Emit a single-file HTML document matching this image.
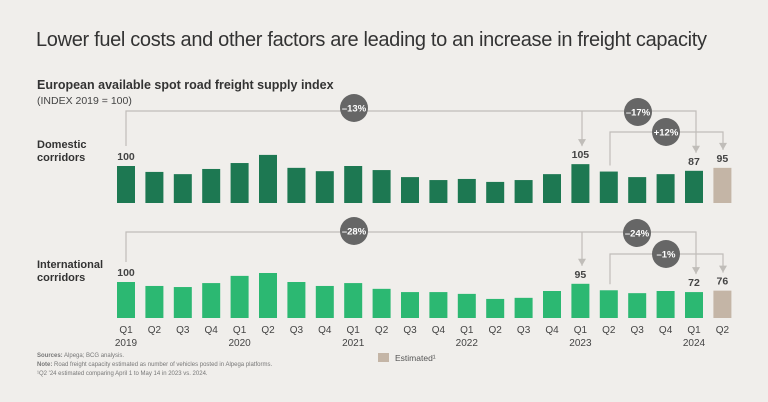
<!DOCTYPE html>
<html><head><meta charset="utf-8"><style>
body{margin:0;background:#f0eeeb;}
svg{display:block;font-family:"Liberation Sans",sans-serif;}
</style></head><body>
<svg id="c" width="768" height="402" viewBox="0 0 768 402">
<rect width="768" height="402" fill="#f0eeeb"/>
<text x="36" y="46" font-size="20" fill="#333" textLength="671">Lower fuel costs and other factors are leading to an increase in freight capacity</text>
<text x="37" y="89" font-size="12.5" font-weight="bold" fill="#333">European available spot road freight supply index</text>
<text x="37" y="104" font-size="10.5" fill="#444">(INDEX 2019 = 100)</text>
<text x="37" y="148" font-size="11" font-weight="bold" fill="#333"><tspan x="37">Domestic</tspan><tspan x="37" dy="13">corridors</tspan></text>
<text x="25" y="268" font-size="11" font-weight="bold" fill="#333"><tspan x="37">International</tspan><tspan x="37" dy="13">corridors</tspan></text>
<g id="ann"></g>
<g id="bars"></g>
<g id="axis"></g>
<text x="37" y="357" font-size="6" fill="#777"><tspan font-weight="bold">Sources:</tspan> Alpega; BCG analysis.</text>
<text x="37" y="366" font-size="6" fill="#777"><tspan font-weight="bold">Note:</tspan> Road freight capacity estimated as number of vehicles posted in Alpega platforms.</text>
<text x="37" y="375" font-size="6" fill="#777">¹Q2 '24 estimated comparing April 1 to May 14 in 2023 vs. 2024.</text>
<rect x="378" y="353" width="11" height="9" fill="#c4b5a6"/>
<text x="395" y="361" font-size="8.5" fill="#555">Estimated¹</text>
</svg>
<script>
const quarters=["Q1","Q2","Q3","Q4","Q1","Q2","Q3","Q4","Q1","Q2","Q3","Q4","Q1","Q2","Q3","Q4","Q1","Q2","Q3","Q4","Q1","Q2"];
const years=["2019","","","","2020","","","","2021","","","","2022","","","","2023","","","","2024",""];
const domestic=[100,84,78,92,108,130,95,86,100,89,70,62,65,57,62,78,105,85,70,78,87,95];
const international=[100,89,86,97,117,125,100,89,97,81,72,72,67,53,56,75,95,77,69,75,72,76];
const domesticLabels={0:"100",16:"105",20:"87",21:"95"};
const intlLabels={0:"100",16:"95",20:"72",21:"76"};
const estimated=[21];
const NS="http://www.w3.org/2000/svg";
const x0=126,step=28.4,bw=18;
const xPos=i=>x0+i*step;
function mk(t,a,p){const e=document.createElementNS(NS,t);for(const k in a)e.setAttribute(k,a[k]);p.appendChild(e);return e;}
const bars=document.getElementById('bars'),axis=document.getElementById('axis'),ann=document.getElementById('ann');
function drawSeries(vals,labels,base,scale,color,name){
  vals.forEach((v,i)=>{
    const h=v*scale;
    const r=mk('rect',{x:xPos(i)-bw/2,y:base-h,width:bw,height:h,fill:estimated.includes(i)?'#c4b5a6':color},bars);
    
    
    if(labels[i]!==undefined){
      const t=mk('text',{x:xPos(i),y:base-h-6,'font-size':10.5,'font-weight':'bold','fill':'#444','text-anchor':'middle'},bars);
      t.textContent=labels[i];
      
      
    }
  });
}
const dBase=203,dScale=0.37,iBase=318,iScale=0.36;
drawSeries(domestic,domesticLabels,dBase,dScale,'#1d7852','domestic');
drawSeries(international,intlLabels,iBase,iScale,'#2cb872','international');
quarters.forEach((q,i)=>{
  const t=mk('text',{x:xPos(i),y:333,'font-size':10,'fill':'#444','text-anchor':'middle'},axis);
  t.textContent=q;
  
  
  if(years[i]){
    const y=mk('text',{x:xPos(i),y:346,'font-size':10,'fill':'#444','text-anchor':'middle'},axis);
    y.textContent=years[i];
    
    
  }
});
const lc='#c0bdb9';
function line(pts){mk('polyline',{points:pts.map(p=>p.join(',')).join(' '),fill:'none',stroke:lc,'stroke-width':1.2},ann);}
function arrow(x,y){mk('polygon',{points:`${x-4},${y-7} ${x+4},${y-7} ${x},${y}`,fill:lc},ann);}
function bubble(x,y,txt,name){
  const c=mk('circle',{cx:x,cy:y,r:14,fill:'#666'},ann);
  
  
  const t=mk('text',{x:x,y:y+3.5,'font-size':9.5,'font-weight':'bold',fill:'#fff','text-anchor':'middle'},ann);
  t.textContent=txt;
}
function topOf(vals,i,base,scale){return base-vals[i]*scale-18;}
// domestic
line([[126,topOf(domestic,0,dBase,dScale)-2],[126,111],[696,111],[696,topOf(domestic,20,dBase,dScale)]]);
line([[582,111],[582,topOf(domestic,16,dBase,dScale)]]);
arrow(582,topOf(domestic,16,dBase,dScale));arrow(696,topOf(domestic,20,dBase,dScale));
line([[610,dBase-domestic[17]*dScale-6],[610,132],[723,132],[723,topOf(domestic,21,dBase,dScale)]]);
arrow(723,topOf(domestic,21,dBase,dScale));
bubble(354,108,'–13%','bubble-minus13');bubble(638,112,'–17%','bubble-minus17');bubble(666,132,'+12%','bubble-plus12');
// international
line([[126,topOf(international,0,iBase,iScale)-2],[126,232],[696,232],[696,topOf(international,20,iBase,iScale)]]);
line([[582,232],[582,topOf(international,16,iBase,iScale)]]);
arrow(582,topOf(international,16,iBase,iScale));arrow(696,topOf(international,20,iBase,iScale));
line([[610,iBase-international[17]*iScale-6],[610,254],[723,254],[723,topOf(international,21,iBase,iScale)]]);
arrow(723,topOf(international,21,iBase,iScale));
bubble(354,231,'–28%','bubble-minus28');bubble(637,233,'–24%','bubble-minus24');bubble(666,254,'–1%','bubble-minus1');
</script>
</body></html>
